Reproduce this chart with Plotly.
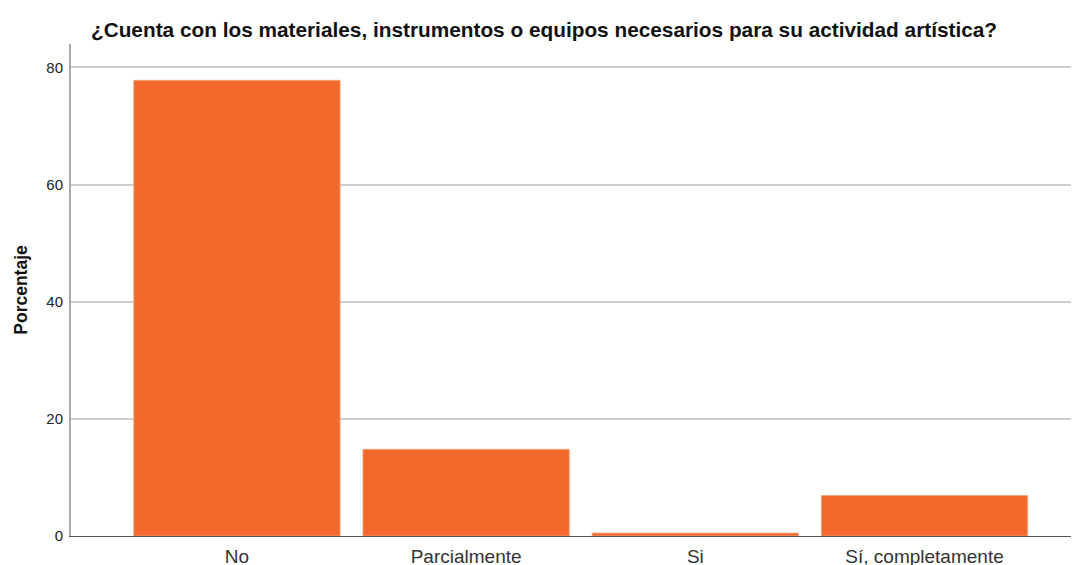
import plotly.graph_objects as go

categories = ["No", "Parcialmente", "Si", "Sí, completamente"]
values = [77.8, 14.8, 0.5, 6.9]
y_ticks = [0, 20, 40, 60, 80]

fig = go.Figure(go.Bar(
    x=categories, y=values, width=0.9,
    marker=dict(color="#F2692B", line=dict(color="#F7A27A", width=0.8)),
))

# note: the page body adds an 8px offset, margins compensate for it
fig.update_layout(
    width=1071, height=557,
    margin=dict(l=63, r=0, t=36, b=29, autoexpand=False),
    plot_bgcolor="white", paper_bgcolor="white",
    showlegend=False,
    title=dict(text="<b>¿Cuenta con los materiales, instrumentos o equipos necesarios para su actividad artística?</b>",
               xref="container", x=536 / 1071, xanchor="center",
               yref="container", y=1 - 21.5 / 557, yanchor="middle",
               font=dict(family="Liberation Sans, Arial", size=20.8, color="#111")),
    font=dict(family="Liberation Sans, Arial"),
)
fig.update_xaxes(
    range=[-0.724, 3.674], showgrid=False,
    showline=True, linecolor="#555", linewidth=1.2,
    ticks="", ticklabelstandoff=3, tickfont=dict(size=19, color="#333"),
)
fig.update_yaxes(
    range=[0, 84], tickvals=y_ticks, ticktext=[str(v) for v in y_ticks],
    showgrid=True, gridcolor="#cfcfcf", gridwidth=1.5,
    showline=True, linecolor="#aaaaaa", linewidth=2,
    ticks="", ticklabelstandoff=3,
    tickfont=dict(size=15, color="#222"),
    zeroline=False,
    title=dict(text="<b>Porcentaje</b>", font=dict(family="Liberation Sans, Arial", size=17.5, color="#111"), standoff=14),
)

fig.write_html("out.html")
